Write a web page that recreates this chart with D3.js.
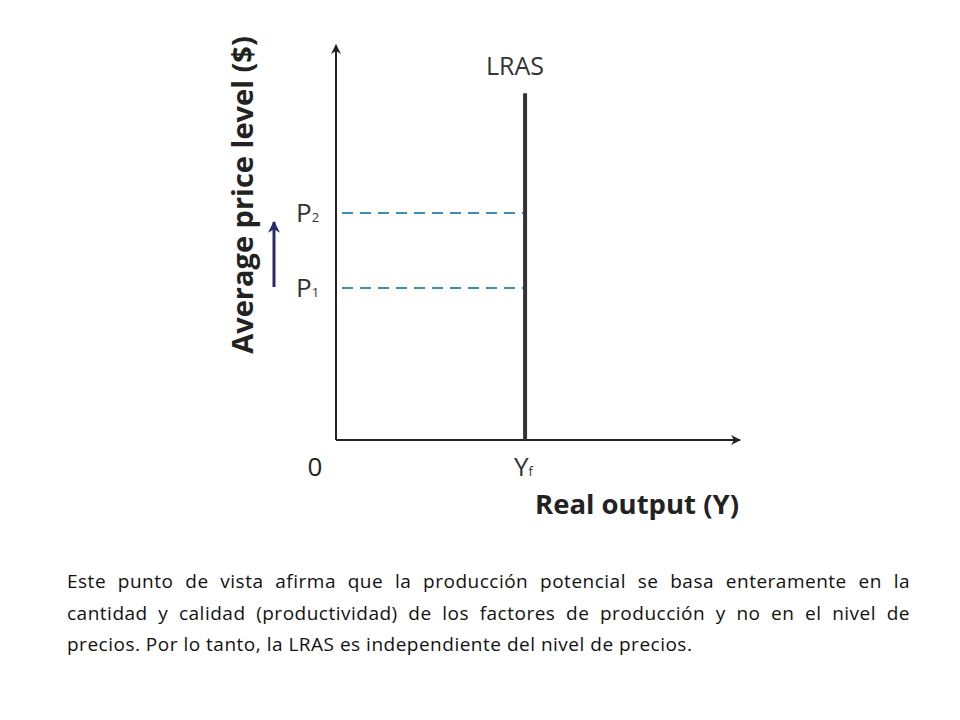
<!DOCTYPE html>
<html><head><meta charset="utf-8">
<script src="https://cdn.jsdelivr.net/npm/d3@7"></script>
<style>
body{margin:0;background:#fff;width:960px;height:720px;overflow:hidden;font-family:"Open Sans",sans-serif}
#note{position:absolute;left:67px;top:566px;width:843px;font-size:19px;letter-spacing:0.5px;line-height:31.5px;color:#111;font-family:"Open Sans",sans-serif}
#note div{text-align:justify;text-align-last:justify}
#note div.last{text-align-last:left}
</style></head><body>
<div id="wrapper"></div>
<div id="note"></div>
<script>
// data
const priceLabels = ["P1", "P2"];
const priceValues = [3.85, 5.75];
const outputLabel = "Yf";
const outputValue = 4.68;
const lrasTop = 8.78;
const noteLines = [
  "Este punto de vista afirma que la producción potencial se basa enteramente en la",
  "cantidad y calidad (productividad) de los factores de producción y no en el nivel de",
  "precios. Por lo tanto, la LRAS es independiente del nivel de precios."
];

const svg = d3.select("#wrapper").append("svg")
  .attr("width", 960).attr("height", 720)
  .style("position", "absolute").style("left", 0).style("top", 0);

const x = d3.scaleLinear().domain([0, 10]).range([336, 740]);
const y = d3.scaleLinear().domain([0, 10]).range([440, 45]);

const defs = svg.append("defs");
defs.append("marker").attr("id", "ah").attr("viewBox", "0 0 10 10")
  .attr("refX", 9).attr("refY", 5).attr("markerWidth", 10).attr("markerHeight", 10)
  .attr("markerUnits", "userSpaceOnUse").attr("orient", "auto")
  .append("path").attr("d", "M0,0 L10,5 L0,10 L3,5 Z").attr("fill", "#222");
defs.append("marker").attr("id", "bh").attr("viewBox", "0 0 10 10")
  .attr("refX", 9).attr("refY", 5).attr("markerWidth", 12).attr("markerHeight", 12)
  .attr("markerUnits", "userSpaceOnUse").attr("orient", "auto")
  .append("path").attr("d", "M0,0 L10,5 L0,10 L3,5 Z").attr("fill", "#2a2a6e");

// axes
svg.append("line").attr("x1", x(0)).attr("y1", y(0)).attr("x2", x(0)).attr("y2", y(10))
  .attr("stroke", "#222").attr("stroke-width", 2).attr("marker-end", "url(#ah)");
svg.append("line").attr("x1", x(0)).attr("y1", y(0)).attr("x2", x(10)).attr("y2", y(0))
  .attr("stroke", "#222").attr("stroke-width", 2).attr("marker-end", "url(#ah)");

// dashed price lines
priceValues.forEach((v, i) => {
  svg.append("line").attr("x1", x(0) + 6).attr("x2", x(outputValue)).attr("y1", y(v)).attr("y2", y(v))
    .attr("stroke", "#3b8db4").attr("stroke-width", 2).attr("stroke-dasharray", "11,7");
  const t = svg.append("text").attr("x", 296).attr("y", y(v) + 9)
    .attr("font-size", 26).attr("fill", "#333").attr("font-family", "Open Sans, sans-serif");
  t.append("tspan").text(priceLabels[i][0]);
  t.append("tspan").attr("font-size", 13).text(priceLabels[i].slice(1));
});

// LRAS
svg.append("line").attr("x1", x(outputValue)).attr("x2", x(outputValue)).attr("y1", y(0)).attr("y2", y(lrasTop))
  .attr("stroke", "#333").attr("stroke-width", 4);
svg.append("text").attr("x", x(outputValue) - 10).attr("y", 75).attr("text-anchor", "middle")
  .attr("font-size", 25).attr("fill", "#333").text("LRAS");

// tick labels
svg.append("text").attr("x", 315).attr("y", 476).attr("text-anchor", "middle")
  .attr("font-size", 26).attr("fill", "#222").text("0");
const yf = svg.append("text").attr("x", x(outputValue) - 11).attr("y", 476)
  .attr("font-size", 26).attr("fill", "#333");
yf.append("tspan").text(outputLabel[0]);
yf.append("tspan").attr("font-size", 13).text(outputLabel.slice(1));

// axis titles
svg.append("text").attr("x", 637).attr("y", 514).attr("text-anchor", "middle")
  .attr("font-size", 27.5).attr("font-weight", "bold").attr("fill", "#222").text("Real output (Y)");
svg.append("text").attr("transform", "translate(253,195) rotate(-90)").attr("text-anchor", "middle")
  .attr("font-size", 29).attr("font-weight", "bold").attr("fill", "#222").text("Average price level ($)");

// blue arrow
svg.append("line").attr("x1", 274).attr("x2", 274).attr("y1", 287).attr("y2", 222)
  .attr("stroke", "#2a2a6e").attr("stroke-width", 3).attr("marker-end", "url(#bh)");

// note text
d3.select("#note").selectAll("div").data(noteLines).join("div")
  .classed("last", (d, i) => i === noteLines.length - 1).text(d => d);
</script>
</body></html>
